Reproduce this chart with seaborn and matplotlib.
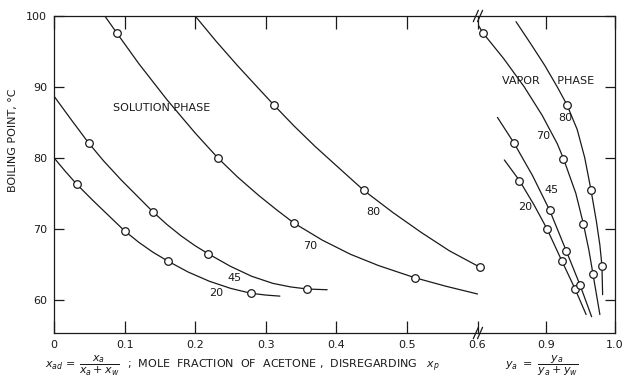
import numpy as np
import pandas as pd
import matplotlib
matplotlib.use("Agg")
import matplotlib.pyplot as plt
import seaborn as sns

# ---------------- data ----------------
# Solution phase: traced curve points and measured points (circles)
sol_20_x = [0.0, 0.016, 0.032, 0.055, 0.078, 0.10, 0.12, 0.14, 0.162, 0.19, 0.22, 0.25, 0.279, 0.30, 0.32]
sol_20_y = [80.0, 78.1, 76.3, 74.0, 71.8, 69.7, 68.1, 66.7, 65.4, 63.9, 62.6, 61.6, 60.9, 60.65, 60.5]
sol_45_x = [0.0, 0.025, 0.049, 0.07, 0.095, 0.118, 0.14, 0.16, 0.18, 0.20, 0.218, 0.25, 0.28, 0.31, 0.335, 0.359, 0.387]
sol_45_y = [88.7, 85.3, 82.1, 79.6, 76.9, 74.6, 72.4, 70.6, 69.0, 67.6, 66.5, 64.7, 63.3, 62.3, 61.8, 61.5, 61.4]
sol_70_x = [0.072, 0.089, 0.12, 0.16, 0.20, 0.232, 0.26, 0.29, 0.315, 0.34, 0.38, 0.42, 0.46, 0.511, 0.555, 0.60]
sol_70_y = [100.0, 97.6, 93.3, 88.2, 83.5, 80.0, 77.3, 74.7, 72.7, 70.8, 68.4, 66.4, 64.8, 63.1, 61.9, 60.8]
sol_80_x = [0.20, 0.23, 0.26, 0.285, 0.312, 0.34, 0.37, 0.40, 0.439, 0.48, 0.52, 0.56, 0.603]
sol_80_y = [100.0, 96.4, 93.0, 90.3, 87.4, 84.5, 81.6, 78.9, 75.4, 72.3, 69.5, 66.9, 64.6]

sol_pts_20_x = [0.032, 0.10, 0.162, 0.279]
sol_pts_20_y = [76.3, 69.7, 65.4, 60.9]
sol_pts_45_x = [0.049, 0.14, 0.218, 0.359]
sol_pts_45_y = [82.1, 72.4, 66.5, 61.5]
sol_pts_70_x = [0.089, 0.232, 0.34, 0.511]
sol_pts_70_y = [97.6, 80.0, 70.8, 63.1]
sol_pts_80_x = [0.312, 0.439, 0.603]
sol_pts_80_y = [87.4, 75.4, 64.6]

# Vapor phase
vap_20_x = [0.839, 0.861, 0.882, 0.901, 0.923, 0.942, 0.958]
vap_20_y = [79.7, 76.8, 73.4, 70.0, 65.4, 61.5, 57.9]
vap_45_x = [0.829, 0.853, 0.880, 0.905, 0.929, 0.949, 0.966]
vap_45_y = [85.7, 82.1, 77.5, 72.6, 66.9, 62.1, 57.6]
vap_70_x = [0.800, 0.808, 0.838, 0.868, 0.894, 0.916, 0.925, 0.943, 0.954, 0.962, 0.968, 0.978]
vap_70_y = [98.9, 97.6, 94.0, 90.0, 86.0, 82.0, 79.9, 75.0, 70.7, 67.0, 63.6, 57.9]
vap_80_x = [0.856, 0.878, 0.898, 0.916, 0.930, 0.945, 0.956, 0.965, 0.973, 0.978, 0.981, 0.982]
vap_80_y = [99.2, 96.0, 93.0, 90.0, 87.5, 84.0, 80.0, 75.5, 71.0, 67.7, 64.8, 60.7]

vap_pts_20_x = [0.861, 0.901, 0.923, 0.942]
vap_pts_20_y = [76.8, 70.0, 65.4, 61.5]
vap_pts_45_x = [0.853, 0.905, 0.929, 0.949]
vap_pts_45_y = [82.1, 72.6, 66.9, 62.1]
vap_pts_70_x = [0.808, 0.925, 0.954, 0.968]
vap_pts_70_y = [97.6, 79.9, 70.7, 63.6]
vap_pts_80_x = [0.930, 0.965, 0.981]
vap_pts_80_y = [87.5, 75.5, 64.8]

curve_names = ["20", "45", "70", "80"]

left_xticks = [0, 0.1, 0.2, 0.3, 0.4, 0.5, 0.6]
left_xticklabels = ["0", "0.1", "0.2", "0.3", "0.4", "0.5", "0.6"]
right_xticks = [0.9, 1.0]
right_xticklabels = ["0.9", "1.0"]
yticks = [60, 70, 80, 90, 100]

# ---------------- build frames ----------------
def frame(xs, ys):
    rows = []
    for name, x, y in zip(curve_names, xs, ys):
        rows.append(pd.DataFrame({"x": x, "y": y, "curve": name}))
    return pd.concat(rows, ignore_index=True)

sol_lines = frame([sol_20_x, sol_45_x, sol_70_x, sol_80_x], [sol_20_y, sol_45_y, sol_70_y, sol_80_y])
sol_pts = frame([sol_pts_20_x, sol_pts_45_x, sol_pts_70_x, sol_pts_80_x],
                [sol_pts_20_y, sol_pts_45_y, sol_pts_70_y, sol_pts_80_y])
vap_lines = frame([vap_20_x, vap_45_x, vap_70_x, vap_80_x], [vap_20_y, vap_45_y, vap_70_y, vap_80_y])
vap_pts = frame([vap_pts_20_x, vap_pts_45_x, vap_pts_70_x, vap_pts_80_x],
                [vap_pts_20_y, vap_pts_45_y, vap_pts_70_y, vap_pts_80_y])

# ---------------- figure ----------------
sns.set_theme(style="white")
plt.rcParams["font.family"] = ["DejaVu Sans"]
INK = "#1a1a1a"
plt.rcParams["text.color"] = INK
plt.rcParams["axes.edgecolor"] = INK
plt.rcParams["xtick.color"] = INK
plt.rcParams["ytick.color"] = INK
plt.rcParams["mathtext.fontset"] = "dejavusans"

fig = plt.figure(figsize=(6.23, 3.82), dpi=100)
gs = fig.add_gridspec(1, 2, width_ratios=[422, 137], wspace=0,
                      left=54 / 623, right=615 / 623, top=1 - 16 / 382, bottom=1 - 333 / 382)
axL = fig.add_subplot(gs[0])
axR = fig.add_subplot(gs[1], sharey=axL)
axR.patch.set_visible(False)

pal = {n: INK for n in curve_names}
for ax, lines, pts in [(axL, sol_lines, sol_pts), (axR, vap_lines, vap_pts)]:
    sns.lineplot(data=lines, x="x", y="y", hue="curve", palette=pal, sort=False,
                 estimator=None, legend=False, linewidth=0.9, ax=ax)
    sns.scatterplot(data=pts, x="x", y="y", ax=ax, marker="o", s=30,
                    facecolor="white", edgecolor=INK, linewidth=0.9, zorder=3,
                    clip_on=False)
    ax.set_xlabel("")
    ax.set_ylabel("")

axL.set_xlim(0, 0.6)
axR.set_xlim(0.8, 1.0)
axL.set_ylim(55.3, 100)

axL.set_xticks(left_xticks)
axL.set_xticklabels(left_xticklabels)
axR.set_xticks(right_xticks)
axR.set_xticklabels(right_xticklabels)
axL.set_yticks(yticks)
axL.set_yticklabels([str(v) for v in yticks])

axL.tick_params(axis="x", which="both", direction="in", length=9, width=0.9,
                top=True, bottom=True, labelsize=8, pad=5)
axL.tick_params(axis="y", direction="in", length=7, width=0.9, left=True,
                right=False, labelsize=8, pad=5)
axR.tick_params(axis="x", which="both", direction="in", length=9, width=0.9,
                top=True, bottom=True, labelsize=8, pad=5)
axR.tick_params(axis="y", direction="in", length=7, width=0.9, left=False,
                right=True, labelleft=False, labelright=False)

for ax in (axL, axR):
    for s in ax.spines.values():
        s.set_linewidth(0.9)
        s.set_color(INK)
axL.spines["right"].set_visible(False)
axR.spines["left"].set_visible(False)

# break marks on top and bottom
for yb in (0.0, 1.0):
    for dx in (-0.004, 0.006):
        axL.plot([1 + dx - 0.006, 1 + dx + 0.006], [yb - 0.018, yb + 0.018],
                 transform=axL.transAxes, color=INK, lw=0.9, clip_on=False)

# annotations
axL.text(0.153, 87.0, "SOLUTION PHASE", fontsize=8, ha="center", va="center")
axL.text(0.453, 72.4, "80", fontsize=8, ha="center", va="center")
axL.text(0.363, 67.6, "70", fontsize=8, ha="center", va="center")
axL.text(0.256, 63.0, "45", fontsize=8, ha="center", va="center")
axL.text(0.230, 60.9, "20", fontsize=8, ha="center", va="center")

axR.text(0.902, 90.8, "VAPOR     PHASE", fontsize=8, ha="center", va="center")
axR.text(0.927, 85.6, "80", fontsize=8, ha="center", va="center")
axR.text(0.895, 83.1, "70", fontsize=8, ha="center", va="center")
axR.text(0.907, 75.5, "45", fontsize=8, ha="center", va="center")
axR.text(0.869, 73.0, "20", fontsize=8, ha="center", va="center")

fig.text(13 / 623, 1 - 140 / 382, "BOILING POINT, °C", rotation=90,
         ha="center", va="center", fontsize=8)
fig.text(45 / 623, 1 - 366 / 382, r"$x_{ad}\,=\,\dfrac{x_a}{x_a+x_w}$",
         ha="left", va="center", fontsize=8)
fig.text(127 / 623, 1 - 366 / 382,
         r";  MOLE  FRACTION  OF  ACETONE ,  DISREGARDING   $x_p$",
         ha="left", va="center", fontsize=8)
fig.text(542 / 623, 1 - 366 / 382, r"$y_a\ =\ \dfrac{y_a}{y_a+y_w}$",
         ha="center", va="center", fontsize=8)

fig.savefig("out.png", dpi=100, facecolor="white")
